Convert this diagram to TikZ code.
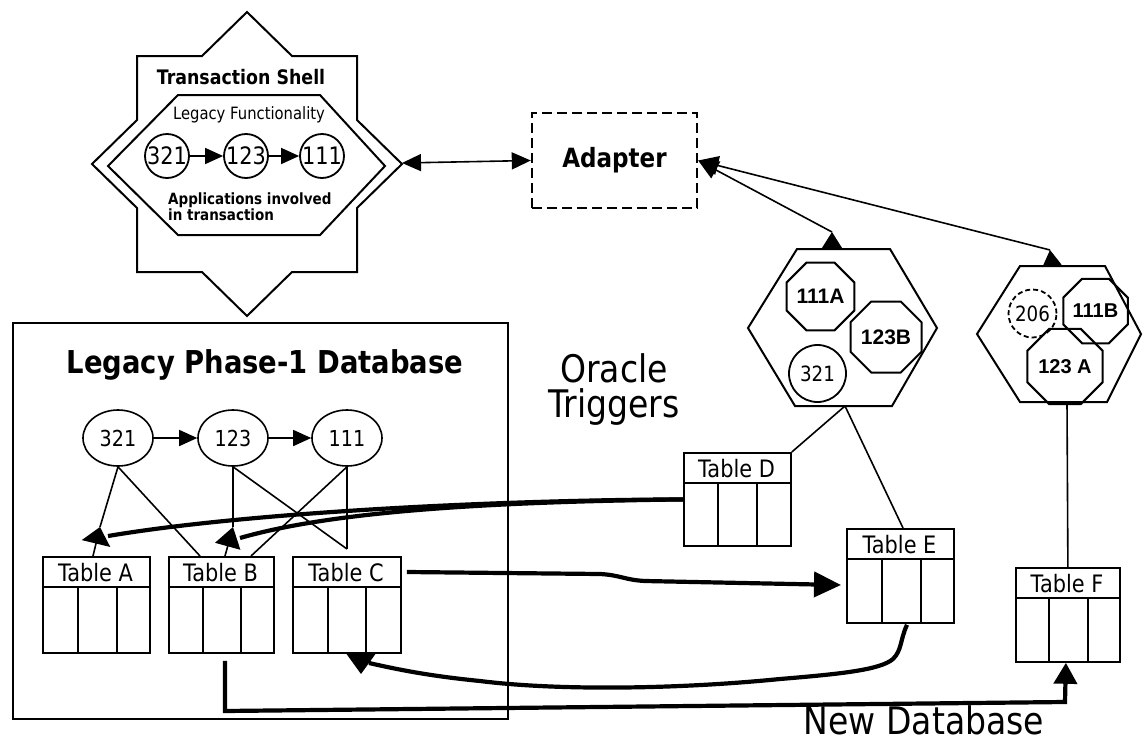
\documentclass[tikz,border=0pt]{standalone}
\usepackage{fontspec}
\setmainfont[FakeStretch=0.87]{DejaVu Sans}
\newfontfamily\arialf{Liberation Sans}
\usetikzlibrary{arrows.meta,shapes.geometric,calc}
\newcommand\setfs[1]{\fontsize{#1}{#1}\selectfont}
\newcommand\dbtable[9]{%
  \node[draw, line width=1.8pt, minimum width={#4-#2}, minimum height={#6-#3}, anchor=north west, inner sep=0pt] (#1) at (#2,#3) {};
  \draw[line width=1.8pt] (#2,#5) -- (#4,#5) (#7,#5) -- (#7,#6) (#8,#5) -- (#8,#6);
  \node[anchor=base, font=\setfs{24}, inner sep=0pt] at ({(#2+#4)/2},{#5-6}) {#9};
}
\begin{document}
\begin{tikzpicture}[x=1pt,y=-1pt,line join=miter,
  ln/.style={line width=1.6pt},
  ln2/.style={line width=2pt},
  tk/.style={line width=4.2pt},
  tri/.style={-{Triangle[length=18pt,width=16pt]}},
  oct/.style={regular polygon, regular polygon sides=8, draw, line width=2pt, inner sep=0pt, font=\arialf\bfseries\setfs{21}},
  ell/.style={ellipse, draw, line width=1.6pt, minimum width=70pt, minimum height=56pt, inner sep=0pt, font=\setfs{22}},
  scirc/.style={circle, draw, line width=1.8pt, minimum size=44pt, inner sep=0pt, font=\setfs{24}}]
\useasboundingbox (0,0) rectangle (1144,742);
\fill[white] (0,0) rectangle (1144,742);

% ---- Transaction shell (star) ----
\draw[ln2] (247,12) -- (292,56) -- (357,56) -- (357,120) -- (402,164) -- (357,208) -- (357,272) -- (292,272) -- (247,316) -- (202,272) -- (137,272) -- (137,208) -- (92,164) -- (137,120) -- (137,56) -- (202,56) -- cycle;
\coordinate (starE) at (402,163);
\draw[ln2] (178,95) -- (320,95) -- (385,166) -- (320,235) -- (178,235) -- (108,166) -- cycle;
\node[font=\bfseries\setfs{20}] (tshell) at (241,77) {Transaction Shell};
\node[anchor=base, font=\setfs{17}, inner sep=0pt] (legf) at (249,119) {Legacy Functionality};
\node[scirc] (s321) at (167,156) {321};
\node[scirc] (s123) at (246,156) {123};
\node[scirc] (s111) at (322,156) {111};
\draw[ln, tri] (s321) -- (s123);
\draw[ln, tri] (s123) -- (s111);
\node[anchor=north west, align=left, inner sep=0pt, font=\bfseries\fontsize{15.5}{14.5}\selectfont] (apps) at (168,193) {Applications involved\\in transaction};

% ---- Adapter ----
\node[draw, line width=2.4pt, dash pattern=on 10pt off 5pt, minimum width=165pt, minimum height=95pt, inner sep=0pt, font=\bfseries\setfs{26.5}] (adapter) at (614.5,160.5) {Adapter};
\draw[ln, {Triangle[length=19pt,width=17pt]}-{Triangle[length=19pt,width=17pt]}] (starE) -- (adapter.west);

% ---- Hexagon 1 ----
\draw[ln2] (797,249) -- (890,249) -- (937,328) -- (892,406) -- (795,406) -- (748,328) -- cycle;
\coordinate (h1top) at (832,249);
\coordinate (ap1) at (832,232);
\coordinate (h1bot) at (845,406);
\node[oct, minimum size=72pt] (o111A) at (820.5,296.5) {111A};
\node[oct, minimum size=71pt] (o123B) at (886,337) {123B};
\node[circle, draw, line width=1.8pt, minimum size=57pt, inner sep=0pt, font=\setfs{21}] (c321) at (817.5,373.5) {321};

% ---- Hexagon 2 ----
\draw[ln2] (1020,266) -- (1105,266) -- (1141,334) -- (1107,402) -- (1020,402) -- (977,334) -- cycle;
\coordinate (h2top) at (1052,266);
\coordinate (ap2) at (1050,250);
\coordinate (h2bot) at (1067,402);
\node[circle, draw, line width=1.8pt, dash pattern=on 5pt off 3pt, minimum size=48pt, inner sep=0pt, font=\setfs{21}] (c206) at (1032.5,313.5) {206};
\node[oct, minimum size=64pt, font=\arialf\bfseries\setfs{20}] (o111B) at (1095.5,311) {111B};
\node[oct, minimum size=63pt, font=\arialf\bfseries\setfs{20}] (o123A) at (1065,366.5) {123 A};

\draw[ln, -{Triangle[length=20pt,width=19pt]}] (ap1) -- (adapter.east);
\draw[ln, -{Triangle[length=17pt,width=21pt]}] (h1top) -- (ap1);
\draw[ln, -{Triangle[length=20pt,width=19pt]}] (ap2) -- (adapter.east);
\draw[ln, -{Triangle[length=16pt,width=19pt]}] (h2top) -- (ap2);

% ---- Legacy database ----
\node[draw, ln, minimum width=495pt, minimum height=396pt, anchor=north west, inner sep=0pt] (legacy) at (12,322) {};
\node[font=\bfseries\setfs{31.5}] (ltitle) at (265,365) {Legacy Phase-1 Database};
\node[ell] (e321) at (118,438) {321};
\node[ell] (e123) at (233,438) {123};
\node[ell] (e111) at (347,438) {111};
\draw[ln, tri] (e321) -- (e123);
\draw[ln, tri] (e123) -- (e111);

\dbtable{tA}{42}{556}{149}{587}{652}{78}{117}{Table A}
\dbtable{tB}{168}{556}{273}{587}{652}{203}{241}{Table B}
\dbtable{tC}{292}{556}{400}{587}{652}{328}{366}{Table C}
\dbtable{tD}{683}{452}{790}{483}{545}{718}{757}{Table D}
\dbtable{tE}{846}{528}{953}{559}{622}{882}{921}{Table E}
\dbtable{tF}{1015}{567}{1119}{598}{661}{1049}{1088}{Table F}

\coordinate (apA) at (100,527);
\coordinate (apB) at (233,527);
\coordinate (apC) at (361,674);
\coordinate (cpt) at (347,549);
\coordinate (endA) at (108,536);
\coordinate (endB) at (240,538);
\coordinate (endC) at (369,663);
\draw[ln] (e321.south) -- (apA);
\draw[ln, -{Triangle[length=17pt,width=29pt]}] ($(tA.north west)+(51,0)$) -- (apA);
\draw[ln] (e321.south) -- ($(tB.north west)+(32,0)$);
\draw[ln] (e123.south) -- (apB);
\draw[ln, -{Triangle[length=20pt,width=26pt]}] ($(tB.north west)+(57,0)$) -- (apB);
\draw[ln] (e123.south) -- (cpt);
\draw[ln] (e111.south) -- (cpt);
\draw[ln] (e111.south) -- ($(tB.north west)+(83,0)$);

% thick trigger connectors
\draw[tk] (tD.west) .. controls (500,500) and (250,512) .. (endA);
\draw[tk] (tD.west) .. controls (480,502) and (330,512) .. (endB);
\coordinate (tipE) at (841,585);
\draw[tk, -{Triangle[length=27pt,width=25pt]}] ($(tC.north east)+(5,16)$) -- (600,574) .. controls (620,575) and (625,580) .. (645,581) -- (tipE);
\draw[tk] ($(tE.south west)+(61,1)$) .. controls (900,640) and (902,650) .. (893,659) .. controls (880,670) and (840,674) .. (780,679) .. controls (680,689) and (560,691) .. (480,681) .. controls (430,676) and (400,670) .. (endC);
\draw[ln, -{Triangle[length=21pt,width=30pt]}] ($(tC.south west)+(69,0)$) -- (apC);
\draw[tk, -{Triangle[length=21pt,width=23pt]}] ($(tB.south west)+(57,7)$) -- (225,711) -- (1065,702) -- ($(tF.south)+(-2,0)$);

% hexagon to table links
\draw[ln] (h1bot) -- (tD.north east);
\draw[ln] (h1bot) -- ($(tE.north west)+(57,0)$);
\draw[ln] (h2bot) -- (tF.north);

% labels
\node[align=center, font=\fontsize{38}{35}\selectfont] (oracle) at (614,390) {Oracle\\Triggers};
\node[font=\setfs{38}] (newdb) at (924,720) {New Database};
\end{tikzpicture}
\end{document}
